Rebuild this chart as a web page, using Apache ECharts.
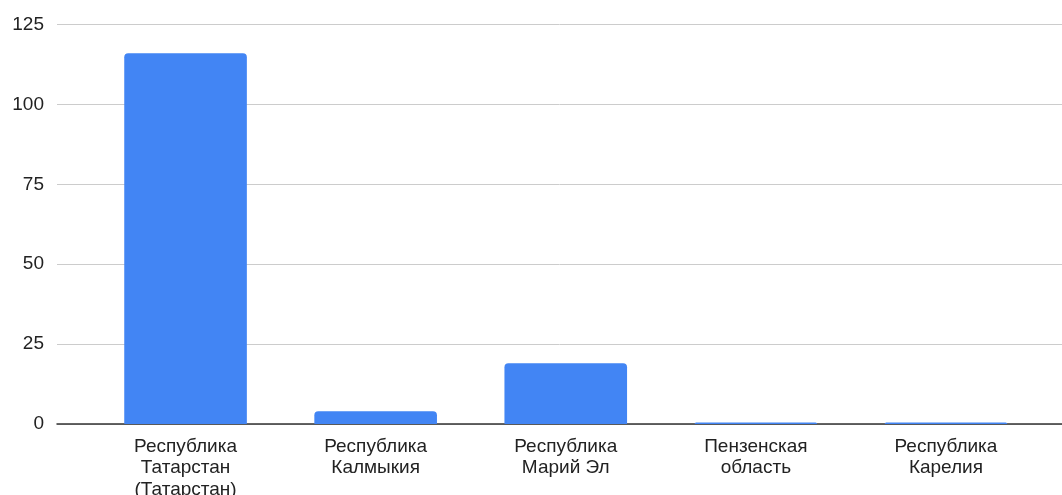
<!DOCTYPE html>
<html>
<head>
<meta charset="utf-8">
<script src="https://cdn.jsdelivr.net/npm/echarts@6/dist/echarts.min.js"></script>
<style>html,body{margin:0;padding:0;background:#fff}#c{width:1062px;height:495px}</style>
</head>
<body>
<div id="c"></div>
<script>
const categories = ['Республика\nТатарстан\n(Татарстан)', 'Республика\nКалмыкия', 'Республика\nМарий Эл', 'Пензенская\nобласть', 'Республика\nКарелия'];
const values = [116, 4, 19, 0.5, 0.5];
const yTicks = [0, 25, 50, 75, 100, 125];

const font = '"Liberation Sans", Arial, sans-serif';
const chart = echarts.init(document.getElementById('c'));
const gridTop = 24.5, gridBottom = 71;
chart.setOption({
  animation: false,
  grid: [
    { left: 57, right: 0, top: gridTop, bottom: gridBottom, outerBoundsMode: 'none', containLabel: false },
    { left: 90.5, right: 21, top: gridTop, bottom: gridBottom, outerBoundsMode: 'none', containLabel: false }
  ],
  xAxis: [
    { gridIndex: 0, type: 'value', min: 0, max: 1,
      axisLine: { show: true, onZero: false, lineStyle: { color: '#333', width: 1.5 } },
      axisTick: { show: false }, axisLabel: { show: false }, splitLine: { show: false } },
    { gridIndex: 1, type: 'category', data: categories,
      axisLine: { show: false }, axisTick: { show: false },
      axisLabel: { interval: 0, margin: 12, fontFamily: font, fontSize: 19, lineHeight: 21.5, color: '#222' } }
  ],
  yAxis: [
    { gridIndex: 0, type: 'value', min: yTicks[0], max: yTicks[yTicks.length - 1], interval: 25,
      axisLine: { show: false }, axisTick: { show: false },
      axisLabel: { margin: 13, fontFamily: font, fontSize: 19, color: '#222' },
      splitLine: { lineStyle: { color: '#cccccc', width: 1 } } },
    { gridIndex: 1, type: 'value', min: yTicks[0], max: yTicks[yTicks.length - 1], interval: 25, show: false,
      splitLine: { show: false } }
  ],
  series: [{
    type: 'bar', xAxisIndex: 1, yAxisIndex: 1, data: values,
    barCategoryGap: '35.5%',
    itemStyle: { color: '#4285f4', borderRadius: [4, 4, 0, 0] },
    z: 1
  }]
});
</script>
</body>
</html>
